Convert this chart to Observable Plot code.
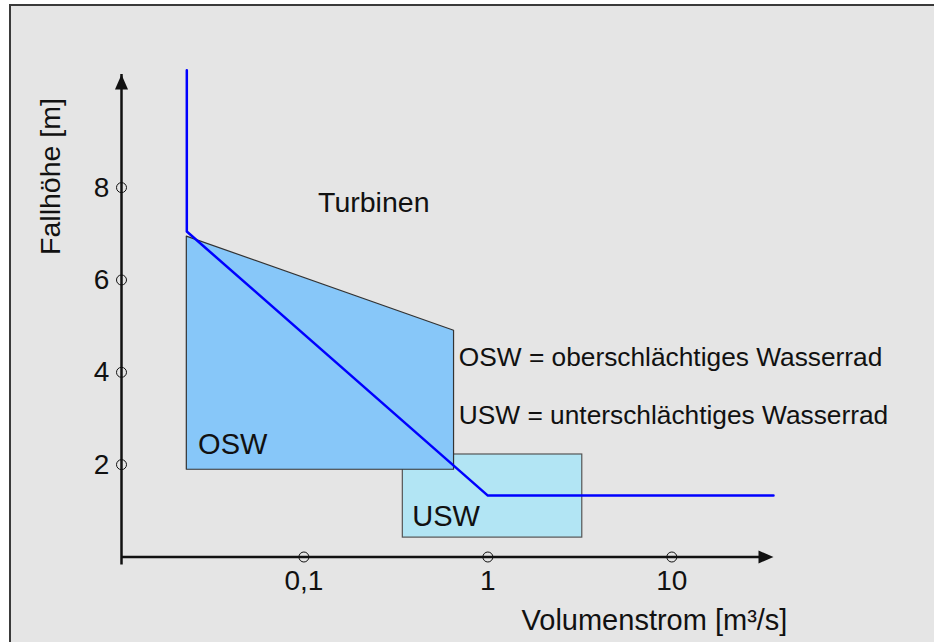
<!DOCTYPE html>
<html><head><meta charset="utf-8">
<script src="https://cdn.jsdelivr.net/npm/d3@7"></script>
<script src="https://cdn.jsdelivr.net/npm/@observablehq/plot@0.6"></script>
<style>
html,body{margin:0;padding:0;background:#fff;}
#wrap{position:relative;width:934px;height:642px;overflow:hidden;}
#bg{position:absolute;left:9px;top:4px;width:1000px;height:700px;background:#e5e5e5;border-left:2px solid #3a3a3a;border-top:2px solid #3a3a3a;}
#chart{position:absolute;left:0;top:0;}
</style></head><body>
<div id="wrap"><div id="bg"></div><div id="chart"></div></div>
<script>
// ---- data ----
const xTicks = [0.1, 1, 10];
const xTickLabels = ["0,1", "1", "10"];
const yTicks = [2, 4, 6, 8];
const yTickLabels = ["2", "4", "6", "8"];
const xAxisStart = 0.0102;
const xAxisEnd = 35.7;
const yAxisEnd = 10.45;
const oswX = [0.0231, 0.655];
const oswTop = [6.94, 4.90];
const oswBottom = 1.89;
const uswX = [0.345, 3.26];
const uswY = [0.42, 2.22];
const limitX = [0.0231, 0.0231, 1, 35.7];
const limitY = [10.54, 7.05, 1.33, 1.33];
const labelTexts = ["Turbinen", "OSW", "USW", "OSW = oberschlächtiges Wasserrad", "USW = unterschlächtiges Wasserrad"];
const labelX = [0.1194, 0.0266, 0.388, 0.695, 0.695];
const labelY = [7.67, 2.43, 0.88, 4.32, 3.07];
const labelSizes = [28.5, 29, 29, 26.3, 26.3];
const xTitle = "Volumenstrom [m³/s]";
const xTitlePos = [42.5, -1.38];
const yTitle = "Fallhöhe [m]";
const yTitlePos = [0.0042, 8.24];

// ---- build ----
const osw = oswX.map((x, i) => ({x, top: oswTop[i], bottom: oswBottom}));
const usw = [{x1: uswX[0], x2: uswX[1], y1: uswY[0], y2: uswY[1]}];
const limit = limitX.map((x, i) => ({x, y: limitY[i]}));
const labels = labelTexts.map((t, i) => ({t, x: labelX[i], y: labelY[i], s: labelSizes[i]}));
const arrowHead = {draw(ctx) { ctx.moveTo(0, 0); ctx.lineTo(6.5, 15); ctx.lineTo(-6.5, 15); ctx.closePath(); }};
const font = "'Liberation Sans', Arial, Helvetica, sans-serif";
const ink = "#111";

const chart = Plot.plot({
  width: 934, height: 642,
  x: {type: "log", domain: [xAxisStart, xAxisEnd], range: [121, 773], axis: null},
  y: {domain: [0, yAxisEnd], range: [556.5, 74], axis: null},
  style: {background: "transparent", fontFamily: font, overflow: "visible"},
  marks: [
    Plot.rect(usw, {x1: "x1", x2: "x2", y1: "y1", y2: "y2", fill: "#b2e5f4", stroke: "#555", strokeWidth: 1.2}),
    Plot.areaY(osw, {x: "x", y1: "bottom", y2: "top", fill: "#87c7f9", stroke: "#333", strokeWidth: 1.2}),
    Plot.ruleY([0], {x1: () => xAxisStart, x2: () => xAxisEnd, stroke: ink, strokeWidth: 2.5, insetRight: 8}),
    Plot.ruleX([xAxisStart], {y1: () => 0, y2: () => yAxisEnd, stroke: ink, strokeWidth: 2.5, insetTop: 8}),
    Plot.dot([yAxisEnd], {x: () => xAxisStart, y: d => d, symbol: arrowHead, fill: ink, stroke: "none"}),
    Plot.dot([xAxisEnd], {x: d => d, y: () => 0, symbol: arrowHead, rotate: 90, fill: ink, stroke: "none"}),
    Plot.line(limit, {x: "x", y: "y", stroke: "#0000ff", strokeWidth: 2.5}),
    Plot.dot(xTicks, {x: d => d, y: () => 0, r: 5, stroke: ink, strokeWidth: 1, fill: "none"}),
    Plot.dot(yTicks, {x: () => xAxisStart, y: d => d, r: 5, stroke: ink, strokeWidth: 1, fill: "none"}),
    Plot.text(xTicks, {x: d => d, y: () => 0, text: (d, i) => xTickLabels[i], dy: 24, fontSize: 28, fill: ink}),
    Plot.text(yTicks, {x: () => xAxisStart, y: d => d, text: (d, i) => yTickLabels[i], dx: -20, fontSize: 28, fill: ink}),
    Plot.text(labels, {x: "x", y: "y", text: "t", textAnchor: "start", fontSize: "s", fill: ink}),
    Plot.text([xTitle], {x: () => xTitlePos[0], y: () => xTitlePos[1], text: d => d, textAnchor: "end", fontSize: 29, fill: ink}),
    Plot.text([yTitle], {x: () => yTitlePos[0], y: () => yTitlePos[1], text: d => d, rotate: -90, fontSize: 28.5, fill: ink})
  ]
});
document.getElementById("chart").appendChild(chart);
</script>
</body></html>
